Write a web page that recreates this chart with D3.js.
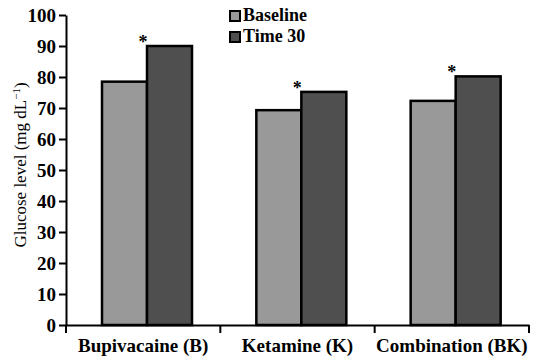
<!DOCTYPE html>
<html>
<head>
<meta charset="utf-8">
<script src="https://cdn.jsdelivr.net/npm/d3@7"></script>
<style>
  body { margin: 0; background: #fff; }
  svg { display: block; }
</style>
</head>
<body>
<div id="grafica"></div>
<script>
// datos
var grupos = ['Bupivacaine (B)', 'Ketamine (K)', 'Combination (BK)']
var series = ['Baseline', 'Time 30']
var baseline = [78.5, 69.3, 72.3]
var time30 = [90, 75.2, 80.2]
var marcas = ['*', '*', '*']
var yTicks = [0, 10, 20, 30, 40, 50, 60, 70, 80, 90, 100]

var colores = { 'Baseline': '#999999', 'Time 30': '#4f4f4f' }
var fuente = "'Liberation Serif', Tinos, 'Times New Roman', 'DejaVu Serif', serif"

var W = 534, H = 358
var svg = d3.select('#grafica').append('svg')
    .attr('width', W)
    .attr('height', H)
    .style('font-family', fuente)

var x0 = d3.scaleBand().domain(grupos).range([66, 529]).padding(0)
var x1 = d3.scaleBand().domain(series).range([36, 126]).padding(0)
var y = d3.scaleLinear().domain([0, 100]).range([325, 15])

var datos = grupos.map(function (g, i) {
    return { grupo: g, valores: [
        { serie: 'Baseline', v: baseline[i] },
        { serie: 'Time 30', v: time30[i] }
    ], marca: marcas[i], top: time30[i] }
})

// barras
var g = svg.selectAll('g.grupo')
    .data(datos)
    .enter()
    .append('g')
    .attr('class', 'grupo')
    .attr('transform', function (d) { return 'translate(' + x0(d.grupo) + ',0)' })

g.selectAll('rect')
    .data(function (d) { return d.valores })
    .enter()
    .append('rect')
    .attr('x', function (d) { return x1(d.serie) })
    .attr('y', function (d) { return y(d.v) })
    .attr('width', x1.bandwidth())
    .attr('height', function (d) { return y(0) - y(d.v) })
    .style('fill', function (d) { return colores[d.serie] })
    .style('stroke', '#000')
    .style('stroke-width', 2.5)

// asteriscos
g.append('text')
    .attr('x', x1('Time 30') - 4)
    .attr('y', function (d) { return y(d.top) + 2 })
    .attr('text-anchor', 'middle')
    .style('font-family', fuente)
    .style('font-size', '18px')
    .style('font-weight', 'bold')
    .text(function (d) { return d.marca })

// eje Y
var ejeY = svg.append('g')
    .attr('transform', 'translate(66,0)')
    .call(d3.axisLeft(y).tickValues(yTicks).tickSize(7).tickSizeOuter(0).tickPadding(3))
ejeY.attr('font-family', null)
ejeY.selectAll('path, line').style('stroke', '#000').style('stroke-width', 2)
ejeY.selectAll('text')
    .style('font-family', fuente)
    .style('font-size', '19px')
    .style('font-weight', 'bold')
    .style('fill', '#000')

// eje X
var ejeX = svg.append('g')
    .attr('transform', 'translate(0,325)')
    .call(d3.axisBottom(x0).tickSize(0).tickPadding(13.5).tickSizeOuter(0))
ejeX.attr('font-family', null)
ejeX.selectAll('path').style('stroke', '#000').style('stroke-width', 2)
ejeX.selectAll('text')
    .style('font-family', fuente)
    .style('font-size', '19px')
    .style('font-weight', 'bold')
    .style('fill', '#000')

var bordes = grupos.map(function (d) { return x0(d) }).concat([x0(grupos[grupos.length - 1]) + x0.bandwidth()])
ejeX.selectAll('line.borde')
    .data(bordes)
    .enter()
    .append('line')
    .attr('class', 'borde')
    .attr('x1', function (d) { return d })
    .attr('x2', function (d) { return d })
    .attr('y1', 0)
    .attr('y2', 8)
    .style('stroke', '#000')
    .style('stroke-width', 2)

// titulo eje Y
var tit = svg.append('text')
    .attr('transform', 'translate(26,165) rotate(-90)')
    .attr('text-anchor', 'middle')
    .style('font-family', fuente)
    .style('font-size', '17px')
tit.append('tspan').text('Glucose level (mg dL')
tit.append('tspan').attr('dy', -6).style('font-size', '11px').text('\u22121')
tit.append('tspan').attr('dy', 6).text(')')

// leyenda
var ley = svg.selectAll('g.ley')
    .data(series)
    .enter()
    .append('g')
    .attr('class', 'ley')
    .attr('transform', function (d, i) { return 'translate(230,' + (11 + i * 21) + ')' })
ley.append('rect')
    .attr('width', 10)
    .attr('height', 10)
    .style('fill', function (d) { return colores[d] })
    .style('stroke', '#000')
    .style('stroke-width', 2)
ley.append('text')
    .attr('x', 13)
    .attr('y', 10)
    .style('font-family', fuente)
    .style('font-size', '18px')
    .style('font-weight', 'bold')
    .text(function (d) { return d })
</script>
</body>
</html>
